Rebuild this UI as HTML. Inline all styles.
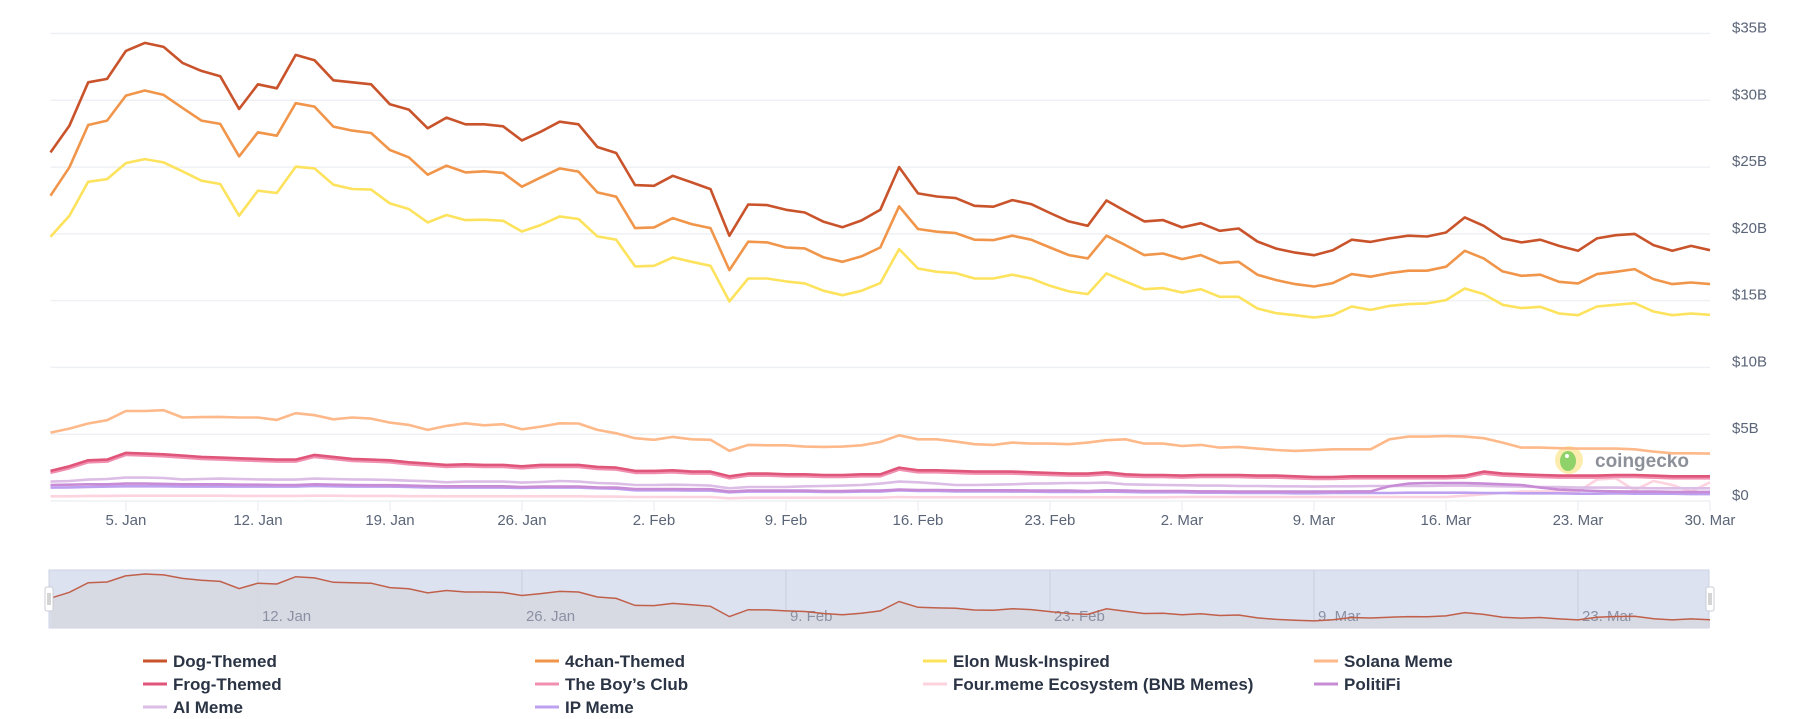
<!DOCTYPE html>
<html><head><meta charset="utf-8"><style>
body{margin:0;background:#fff;}
svg{display:block;font-family:"Liberation Sans",sans-serif;}
</style></head><body>
<svg id="chart" width="1795" height="719"></svg>
<script>
const dates = ["5. Jan","12. Jan","19. Jan","26. Jan","2. Feb","9. Feb","16. Feb","23. Feb","2. Mar","9. Mar","16. Mar","23. Mar","30. Mar"];
const tickDays = [4,11,18,25,32,39,46,53,60,67,74,81,88];
const navLabels = ["12. Jan","26. Jan","9. Feb","23. Feb","9. Mar","23. Mar"];
const navDays = [11,25,39,53,67,81];
const yTicks = [0,5,10,15,20,25,30,35];
const dog = [26.1,28.1,31.35,31.6,33.7,34.3,34.0,32.8,32.2,31.8,29.35,31.2,30.9,33.4,33.0,31.5,31.35,31.2,29.7,29.3,27.9,28.7,28.2,28.2,28.05,27.0,27.65,28.4,28.2,26.5,26.05,23.65,23.6,24.35,23.85,23.35,19.86,22.2,22.15,21.8,21.6,20.9,20.5,21.0,21.8,25.0,
23.03,22.8,22.68,22.1,22.03,22.53,22.23,21.56,20.93,20.6,22.5,21.7,20.93,21.03,20.48,20.8,20.23,20.4,19.43,18.9,18.6,18.4,18.78,19.56,19.4,19.66,19.86,19.8,20.1,21.23,20.6,19.66,19.36,19.56,19.1,18.73,19.66,19.9,20.0,19.16,18.73,19.1,18.78];
const chan4 = [22.86,24.98,28.15,28.48,30.35,30.73,30.4,29.43,28.48,28.23,25.8,27.6,27.35,29.78,29.53,28.03,27.73,27.55,26.28,25.73,24.43,25.1,24.6,24.68,24.56,23.53,24.23,24.9,24.66,23.1,22.78,20.43,20.48,21.18,20.73,20.43,17.29,19.41,19.36,18.98,18.91,18.24,17.91,18.31,18.98,22.06,
20.36,20.16,20.06,19.56,19.53,19.86,19.56,18.98,18.41,18.16,19.86,19.16,18.41,18.53,18.11,18.41,17.81,17.91,16.94,16.54,16.24,16.06,16.31,16.99,16.79,17.06,17.24,17.24,17.54,18.73,18.16,17.19,16.86,16.94,16.41,16.29,16.99,17.16,17.36,16.61,16.24,16.36,16.24];
const elon = [19.78,21.36,23.9,24.1,25.3,25.6,25.35,24.68,23.98,23.73,21.36,23.23,23.06,25.03,24.9,23.68,23.36,23.31,22.28,21.86,20.86,21.41,21.03,21.06,20.98,20.18,20.66,21.31,21.11,19.81,19.56,17.56,17.61,18.24,17.91,17.61,14.94,16.66,16.66,16.44,16.29,15.74,15.41,15.74,16.31,18.86,
17.41,17.16,17.06,16.66,16.66,16.94,16.66,16.11,15.69,15.49,17.04,16.44,15.86,15.94,15.61,15.86,15.29,15.29,14.41,14.06,13.91,13.74,13.91,14.56,14.31,14.61,14.74,14.79,15.04,15.91,15.49,14.69,14.44,14.54,14.04,13.91,14.56,14.69,14.81,14.19,13.91,14.04,13.94];
const solana = [5.12,5.42,5.8,6.05,6.74,6.74,6.8,6.25,6.28,6.3,6.25,6.25,6.07,6.57,6.42,6.12,6.25,6.17,5.87,5.7,5.32,5.62,5.82,5.67,5.75,5.37,5.57,5.82,5.8,5.32,5.07,4.7,4.58,4.8,4.62,4.58,3.75,4.2,4.17,4.17,4.07,4.05,4.07,4.17,4.42,4.92,
4.62,4.62,4.45,4.25,4.2,4.37,4.3,4.3,4.25,4.37,4.55,4.62,4.3,4.3,4.12,4.2,4.0,4.05,3.92,3.82,3.75,3.8,3.87,3.87,3.87,4.62,4.82,4.82,4.87,4.82,4.7,4.37,4.0,4.0,3.95,3.92,3.92,3.92,3.87,3.7,3.57,3.57,3.55];
const frog = [2.25,2.6,3.05,3.1,3.6,3.55,3.5,3.4,3.3,3.25,3.2,3.15,3.1,3.1,3.45,3.3,
3.15,3.1,3.05,2.9,2.8,2.7,2.75,2.7,2.7,2.6,2.7,2.7,2.7,2.55,2.5,
2.25,2.25,2.3,2.2,2.2,1.85,2.05,2.05,2.0,2.0,1.95,1.95,2.0,2.0,2.5,
2.3,2.3,2.25,2.2,2.2,2.2,2.15,2.1,2.05,2.05,2.15,2.0,1.95,1.95,1.9,
1.95,1.95,1.95,1.9,1.9,1.85,1.8,1.8,1.85,1.85,1.85,1.85,1.85,1.85,1.9,
2.2,2.05,2.0,1.95,1.9,1.9,1.9,1.95,1.95,1.9,1.85,1.85,1.85];
const boys = [2.1,2.45,2.9,2.95,3.45,3.4,3.35,3.25,3.15,3.1,3.05,3.0,2.95,2.95,3.3,3.15,
3.0,2.95,2.9,2.75,2.65,2.55,2.6,2.55,2.55,2.45,2.55,2.55,2.55,2.4,2.35,
2.1,2.1,2.15,2.05,2.05,1.7,1.9,1.9,1.85,1.85,1.8,1.8,1.85,1.85,2.35,
2.15,2.15,2.1,2.05,2.05,2.05,2.0,1.95,1.9,1.9,2.0,1.85,1.8,1.8,1.75,
1.8,1.8,1.8,1.75,1.75,1.7,1.65,1.65,1.7,1.7,1.7,1.7,1.7,1.7,1.75,
2.05,1.9,1.85,1.8,1.75,1.75,1.75,1.8,1.8,1.75,1.7,1.7,1.7];
const aiMeme = [1.45,1.5,1.6,1.65,1.75,1.75,1.72,1.62,1.65,1.68,1.65,1.62,1.6,1.6,1.68,1.65,
1.62,1.6,1.58,1.52,1.48,1.4,1.45,1.45,1.45,1.38,1.42,1.5,1.45,1.35,1.3,
1.2,1.2,1.22,1.2,1.15,0.95,1.05,1.05,1.05,1.1,1.12,1.15,1.2,1.3,1.45,
1.4,1.3,1.2,1.2,1.22,1.25,1.3,1.32,1.35,1.35,1.38,1.25,1.22,1.2,1.18,
1.15,1.15,1.12,1.12,1.1,1.1,1.08,1.1,1.1,1.12,1.12,1.12,1.12,1.15,1.15,
1.12,1.1,1.08,1.05,1.05,1.0,1.0,1.0,0.98,0.95,0.95,0.95,0.95];
const politifi = [1.2,1.22,1.25,1.25,1.3,1.3,1.28,1.25,1.25,1.25,1.22,1.22,1.2,1.2,1.25,1.22,
1.2,1.18,1.18,1.15,1.12,1.1,1.1,1.1,1.1,1.05,1.08,1.08,1.08,1.02,1.0,
0.9,0.9,0.9,0.88,0.88,0.7,0.78,0.78,0.78,0.78,0.75,0.75,0.78,0.78,0.85,
0.82,0.82,0.8,0.8,0.8,0.8,0.78,0.78,0.78,0.75,0.8,0.78,0.75,0.75,0.75,
0.72,0.72,0.7,0.7,0.7,0.7,0.7,0.7,0.72,0.72,1.1,1.3,1.35,1.35,1.35,
1.3,1.25,1.2,1.0,0.85,0.8,0.75,0.72,0.7,0.7,0.68,0.68,0.68];
const ipMeme = [1.0,1.02,1.05,1.08,1.1,1.1,1.1,1.08,1.08,1.08,1.08,1.08,1.08,1.08,1.12,1.1,
1.08,1.08,1.08,1.05,1.02,1.0,1.0,1.0,1.0,0.98,1.0,1.0,1.0,0.95,0.92,
0.8,0.8,0.8,0.78,0.78,0.65,0.7,0.7,0.7,0.7,0.68,0.68,0.7,0.7,0.8,
0.75,0.75,0.72,0.72,0.72,0.7,0.7,0.68,0.68,0.68,0.7,0.68,0.65,0.65,0.65,
0.62,0.62,0.6,0.6,0.6,0.58,0.58,0.6,0.6,0.6,0.6,0.62,0.62,0.62,0.62,
0.6,0.6,0.58,0.58,0.58,0.55,0.55,0.58,0.55,0.55,0.55,0.52,0.52];
const fourMeme = [0.35,0.35,0.38,0.38,0.4,0.4,0.4,0.4,0.4,0.4,0.38,0.38,0.38,0.38,0.4,0.4,
0.38,0.38,0.38,0.36,0.36,0.35,0.35,0.35,0.35,0.35,0.35,0.35,0.35,0.33,0.33,
0.3,0.3,0.3,0.3,0.3,0.2,0.25,0.25,0.25,0.25,0.25,0.25,0.25,0.25,0.3,
0.28,0.28,0.28,0.28,0.28,0.28,0.28,0.28,0.28,0.28,0.28,0.28,0.28,0.28,0.3,
0.3,0.3,0.3,0.3,0.3,0.3,0.3,0.3,0.3,0.3,0.3,0.3,0.3,0.3,0.4,
0.5,0.6,0.7,0.7,0.7,0.7,1.6,1.7,0.8,1.5,1.2,0.7,1.4];

const seriesNames = ["Dog-Themed","4chan-Themed","Elon Musk-Inspired","Solana Meme","Frog-Themed","The Boy’s Club","Four.meme Ecosystem (BNB Memes)","PolitiFi","AI Meme","IP Meme"];
const seriesColors = ["#c9532b","#f0954a","#fde35d","#fdb98a","#e0557a","#f08fb0","#fcd3df","#c88bd6","#dcbde6","#bda0ef"];
const seriesData = [dog,chan4,elon,solana,frog,boys,fourMeme,politifi,aiMeme,ipMeme];
const drawOrder = [6,8,9,7,5,4,3,2,1,0];

const NS="http://www.w3.org/2000/svg";
const svg=document.getElementById('chart');
function mk(tag,attrs,parent){const e=document.createElementNS(NS,tag);for(const k in attrs)e.setAttribute(k,attrs[k]);(parent||svg).appendChild(e);return e;}
const X0=50.5,X1=1710,Y0=501,YTOP=33.5,NDAYS=88,YMAX=35;
const xs=d=>X0+(X1-X0)*d/NDAYS;
const ys=v=>Y0-(Y0-YTOP)*v/YMAX;
const nys=v=>628-(v-16)*2.95;

yTicks.forEach(t=>{
  const g=mk('line',{x1:X0,x2:X1,y1:ys(t),y2:ys(t),stroke:'#eef0f4','stroke-width':1.5});
  
  
  const tx=mk('text',{x:1732,y:ys(t)-1,fill:'#5b6578','font-size':15});
  tx.textContent='$'+t+(t?'B':'');
  
  
});
dates.forEach((d,i)=>{
  const x=xs(tickDays[i]);
  const tk=mk('line',{x1:x,x2:x,y1:Y0,y2:Y0+10,stroke:'#e6e9ef','stroke-width':1});
  
  
  const tx=mk('text',{x:x,y:525,fill:'#5b6578','font-size':15,'text-anchor':'middle'});
  tx.textContent=d;
  
  
});
const wm=mk('g',{});


mk('circle',{cx:1569,cy:460,r:14,fill:'#fbe89a',opacity:0.8},wm);
mk('ellipse',{cx:1568,cy:461,rx:8,ry:10,fill:'#8fd26a'},wm);
mk('circle',{cx:1567,cy:456,r:2,fill:'#fff'},wm);
const wt=mk('text',{x:1595,y:467,fill:'#8c9099','font-size':19,'font-weight':'bold'},wm);
wt.textContent='coingecko';
drawOrder.forEach(i=>{
  const pts=seriesData[i].map((v,d)=>xs(d).toFixed(1)+','+ys(v).toFixed(1)).join(' ');
  const p=mk('polyline',{points:pts,fill:'none',stroke:seriesColors[i],'stroke-width':2.6,'stroke-linejoin':'round'});
  
  
});
const nav=mk('g',{});


mk('rect',{x:49,y:570,width:1660,height:58,fill:'#dde2f1',stroke:'#cdd3e3'},nav);
navDays.forEach(d=>{
  const x=xs(d);
  mk('line',{x1:x,x2:x,y1:570,y2:628,stroke:'#c9cedd','stroke-width':1},nav);
});
const npts=dog.map((v,d)=>xs(d).toFixed(1)+','+nys(v).toFixed(1));
const area=mk('polygon',{points:xs(0)+',628 '+npts.join(' ')+' '+xs(NDAYS)+',628',fill:'#d6d7e1',opacity:0.85},nav);


navDays.forEach((d,i)=>{
  const t=mk('text',{x:xs(d)+4,y:621,fill:'#8a91a3','font-size':15},nav);
  t.textContent=navLabels[i];
  
  
});
const nl=mk('polyline',{points:npts.join(' '),fill:'none',stroke:'#c0604a','stroke-width':1.5},nav);


[45,1706].forEach((x,i)=>{
  const h=mk('rect',{x:x,y:587,width:8,height:24,rx:2,fill:'#fff',stroke:'#c8ccd6'},nav);
  
  
  mk('line',{x1:x+3,x2:x+3,y1:593,y2:605,stroke:'#aaa'},nav);
  mk('line',{x1:x+5,x2:x+5,y1:593,y2:605,stroke:'#aaa'},nav);
});
const lgX=[143,535,923,1314], lgY=[661,684,707];
seriesNames.forEach((n,i)=>{
  const x=lgX[i%4], y=lgY[Math.floor(i/4)];
  const g=mk('g',{});
  
  
  mk('line',{x1:x,x2:x+24,y1:y,y2:y,stroke:seriesColors[i],'stroke-width':3},g);
  const t=mk('text',{x:x+30,y:y+6,fill:'#2b3445','font-size':17,'font-weight':'bold'},g);
  t.textContent=n;
});
</script>
</body></html>
